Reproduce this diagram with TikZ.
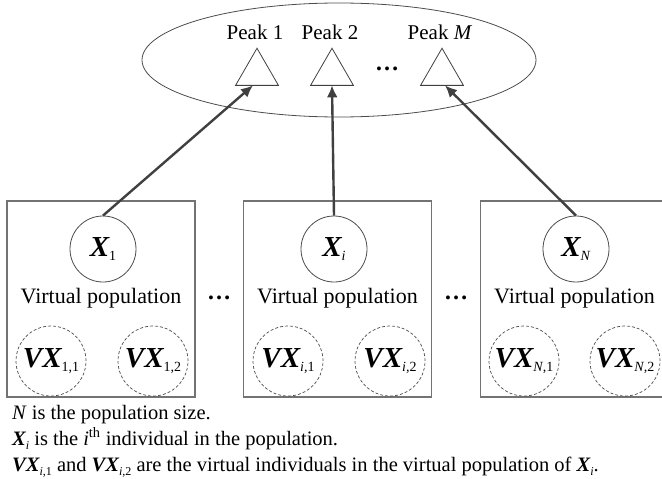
\documentclass[tikz,border=0pt]{standalone}
\usepackage{fontspec}
\setmainfont{Liberation Serif}
\usetikzlibrary{arrows.meta,shapes.geometric}
\newcommand{\bX}{{\bfseries\itshape X}}
\newcommand{\bVX}{{\bfseries\itshape VX}}
\newcommand{\lsub}[1]{\raisebox{-0.15em}{\fontsize{14}{14}\selectfont #1}}
\newcommand{\nsub}[1]{\raisebox{-0.2em}{\fontsize{12}{12}\selectfont #1}}
\begin{document}
\begin{tikzpicture}[x=1pt,y=-1pt,
  pool/.style={draw=black!70,line width=0.8pt,ellipse,minimum width=394pt,minimum height=114pt,inner sep=0pt},
  peak/.style={draw=black!75,line width=0.8pt,regular polygon,regular polygon sides=3,minimum size=49.5pt,inner sep=0pt,outer sep=0pt},
  peaklabel/.style={anchor=base,inner sep=0pt,font=\fontsize{21}{21}\selectfont},
  popbox/.style={draw=black!55,line width=1.5pt,minimum width=188pt,minimum height=196pt,inner sep=0pt},
  indiv/.style={draw=black!70,line width=0.8pt,circle,minimum size=66pt,inner sep=0pt,font=\fontsize{29}{29}\selectfont},
  virt/.style={draw=black!70,line width=0.7pt,dash pattern=on 3pt off 2pt,circle,minimum size=70pt,inner sep=0pt,font=\fontsize{29}{29}\selectfont},
  vplabel/.style={anchor=base,inner sep=0pt,font=\fontsize{22}{22}\selectfont},
  dotslabel/.style={anchor=base,inner sep=0pt,font=\fontsize{24}{24}\selectfont\bfseries},
  note/.style={anchor=base west,inner sep=0pt,font=\fontsize{20.5}{20.5}\selectfont},
  link/.style={draw=black!75,line width=2.4pt,-{Latex[length=12pt,width=11pt]}}]
\useasboundingbox (0,0) rectangle (662,479);
% peak region
\node[pool] (pool) at (339,60) {};
\node[peak] (t1) at (257,73) {};
\node[peak] (t2) at (332,73) {};
\node[peak] (tM) at (442,73) {};
\node[peaklabel] (p1) at (255,39) {Peak 1};
\node[peaklabel] (p2) at (330,39) {Peak 2};
\node[peaklabel] (pM) at (440,39) {Peak \textit{M}};
\node[dotslabel] (pdots) at (387,70) {…};
% population boxes
\node[popbox] (b1) at (101,299) {};
\node[popbox] (b2) at (337.5,299) {};
\node[popbox] (b3) at (574.5,299) {};
\node[dotslabel] (bdots1) at (219,299) {…};
\node[dotslabel] (bdots2) at (456,299) {…};
% individuals
\node[indiv] (X1) at (103,249) {\bX\lsub{1}};
\node[indiv] (Xi) at (334,249) {\bX\lsub{\textit{i}}};
\node[indiv] (XN) at (576,249) {\bX\lsub{\textit{N}}};
\node[vplabel] (vp1) at (101,303) {Virtual population};
\node[vplabel] (vp2) at (337.5,303) {Virtual population};
\node[vplabel] (vp3) at (574.5,303) {Virtual population};
\node[virt] (v11) at (51,361) {\bVX\lsub{1,1}};
\node[virt] (v12) at (153,361) {\bVX\lsub{1,2}};
\node[virt] (vi1) at (288,361) {\bVX\lsub{\textit{i},1}};
\node[virt] (vi2) at (390,361) {\bVX\lsub{\textit{i},2}};
\node[virt] (vN1) at (524,361) {\bVX\lsub{\textit{N},1}};
\node[virt] (vN2) at (625,361) {\bVX\lsub{\textit{N},2}};
% connectors
\draw[link] (X1.north) -- ([xshift=-4pt]t1.south);
\draw[link] (Xi.north) -- (t2.south);
\draw[link] (XN.north) -- ([xshift=3pt]tM.south);
% notes
\node[note] (n1) at (12,419) {\textit{N} is the population size.};
\node[note] (n2) at (12,445) {\bX\nsub{\textit{i}} is the \textit{i}\textsuperscript{th} individual in the population.};
\node[note] (n3) at (12,471) {\bVX\nsub{\textit{i},1} and \bVX\nsub{\textit{i},2} are the virtual individuals in the virtual population of \bX\nsub{\textit{i}}.};
\end{tikzpicture}
\end{document}
